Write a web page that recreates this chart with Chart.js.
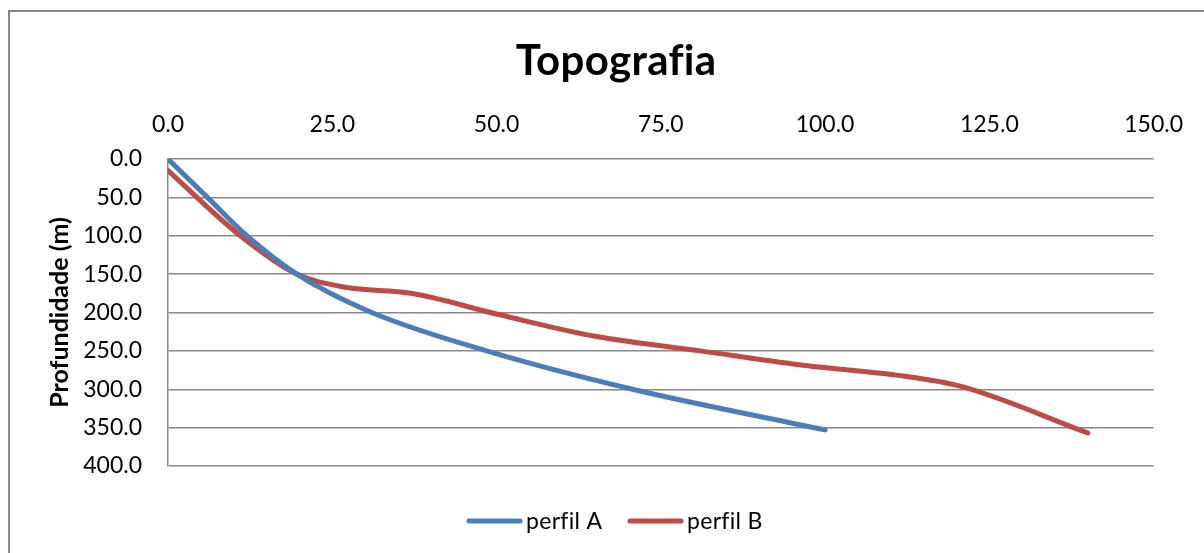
<!DOCTYPE html>
<html>
<head>
<meta charset="utf-8">
<script src="https://cdn.jsdelivr.net/npm/chart.js@4.4.1/dist/chart.umd.min.js"></script>
<style>
  html, body { margin: 0; padding: 0; background: #fff; }
  #wrap { position: relative; width: 1204px; height: 553px; }
</style>
</head>
<body>
<div id="wrap"><canvas id="c" width="1204" height="553"></canvas></div>
<script>
// Profile A: horizontal distance vs depth
const perfilA_x = [0, 6, 12, 19.6, 31, 48.5, 70.7, 100];
const perfilA_y = [0, 50, 100, 150, 200, 250, 300, 353];

// Profile B: horizontal distance vs depth
const perfilB_x = [0, 11, 19.6, 27, 37, 50.5, 65, 81, 96, 113, 121, 140];
const perfilB_y = [15, 100, 150, 167, 175, 203, 231, 250, 268, 284, 297, 357];

const seriesNames = ['perfil A', 'perfil B'];
const seriesColors = ['#4A7EBB', '#BE4B48'];
const chartTitle = 'Topografia';
const yTitle = 'Profundidade (m)';

const toPoints = (xs, ys) => xs.map((x, i) => ({ x: x, y: ys[i] }));

const FONT = 'Lato, "Open Sans", sans-serif';
const PLOT = { left: 168, top: 159, right: 1155, bottom: 466 };

// Frame, title and legend drawn directly on the canvas
const decor = {
  id: 'decor',
  beforeDraw(chart) {
    const ctx = chart.ctx;
    ctx.save();
    ctx.fillStyle = '#fff';
    ctx.fillRect(0, 0, chart.width, chart.height);
    ctx.strokeStyle = '#888';
    ctx.lineWidth = 2;
    ctx.strokeRect(9, 11, 1400, 800);
    ctx.restore();
  },
  afterDraw(chart) {
    const ctx = chart.ctx;
    ctx.save();
    ctx.fillStyle = '#000';
    ctx.textAlign = 'center';
    ctx.textBaseline = 'alphabetic';
    if ('letterSpacing' in ctx) ctx.letterSpacing = '0.3px';
    ctx.font = 'bold 42px ' + FONT;
    ctx.fillText(chartTitle, 616, 75);

    // legend
    ctx.font = '23px ' + FONT;
    ctx.textAlign = 'left';
    const items = [{ x: 467, tx: 526 }, { x: 628, tx: 687 }];
    chart.data.datasets.forEach((ds, i) => {
      const it = items[i];
      ctx.strokeStyle = ds.borderColor;
      ctx.lineWidth = 5;
      ctx.lineCap = 'round';
      ctx.beginPath();
      ctx.moveTo(it.x + 2, 521);
      ctx.lineTo(it.x + 53, 521);
      ctx.stroke();
      ctx.fillStyle = '#000';
      ctx.fillText(ds.label, it.tx, 529);
    });
    ctx.restore();
  }
};

new Chart(document.getElementById('c'), {
  type: 'scatter',
  data: {
    datasets: [
      {
        label: seriesNames[0],
        data: toPoints(perfilA_x, perfilA_y),
        borderColor: seriesColors[0],
        backgroundColor: seriesColors[0],
        showLine: true,
        borderWidth: 5,
        borderCapStyle: 'round',
        borderJoinStyle: 'round',
        pointRadius: 0,
        cubicInterpolationMode: 'monotone'
      },
      {
        label: seriesNames[1],
        data: toPoints(perfilB_x, perfilB_y),
        borderColor: seriesColors[1],
        backgroundColor: seriesColors[1],
        showLine: true,
        borderWidth: 5,
        borderCapStyle: 'round',
        borderJoinStyle: 'round',
        pointRadius: 0,
        cubicInterpolationMode: 'monotone'
      }
    ]
  },
  options: {
    responsive: false,
    animation: false,
    events: [],
    layout: { padding: { left: 0, top: 0, right: 1204 - PLOT.right, bottom: 553 - PLOT.bottom } },
    plugins: {
      legend: { display: false },
      title: { display: false },
      tooltip: { enabled: false }
    },
    scales: {
      x: {
        type: 'linear',
        position: 'top',
        min: 0,
        max: 150,
        ticks: {
          stepSize: 25,
          padding: 21,
          color: '#000',
          font: { family: FONT, size: 23 },
          maxRotation: 0,
          callback: v => v.toFixed(1)
        },
        grid: { display: false, drawTicks: false },
        border: { display: false },
        afterFit: s => { s.height = PLOT.top; }
      },
      y: {
        type: 'linear',
        position: 'left',
        reverse: true,
        min: 0,
        max: 400,
        ticks: {
          stepSize: 50,
          padding: 26,
          color: '#000',
          font: { family: FONT, size: 23 },
          callback: v => v.toFixed(1)
        },
        grid: { color: '#888', lineWidth: 1.5, drawTicks: false },
        border: { display: true, color: '#888', width: 1.5 },
        title: {
          display: true,
          text: yTitle,
          color: '#000',
          font: { family: FONT, size: 25, weight: 'bold' },
          padding: { top: 45, bottom: 0 }
        },
        afterFit: s => { s.width = PLOT.left; }
      }
    }
  },
  plugins: [decor]
});
</script>
</body>
</html>
